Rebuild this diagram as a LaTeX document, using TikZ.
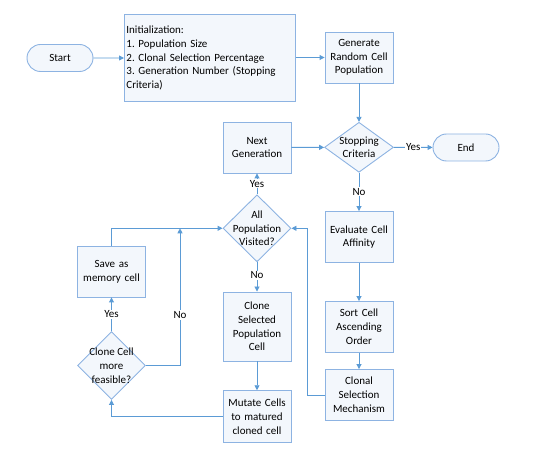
\documentclass[tikz,border=0pt]{standalone}
\usepackage{fontspec}
\setmainfont{Carlito}
\usetikzlibrary{shapes.geometric,shapes.misc,arrows.meta}
\definecolor{edge}{HTML}{8DB3E2}
\definecolor{boxfill}{HTML}{F3F7FC}
\definecolor{arr}{HTML}{5B9BD5}
\tikzset{
  base/.style={draw=edge, line width=0.9pt, fill=boxfill, font=\fontsize{11}{13.8}\selectfont, align=center, inner sep=1pt},
  procbox/.style={base, rectangle, minimum width=68pt, minimum height=51pt, text width=66pt},
  term/.style={base, rounded rectangle, minimum width=68pt, minimum height=27pt},
  decis/.style={base, diamond, inner sep=0pt},
  dtext/.style={font=\fontsize{11}{13.8}\selectfont, align=center, inner sep=0pt},
  conn/.style={draw=arr, line width=0.9pt, -{Triangle[length=5pt,width=5pt]}},
  lbl/.style={font=\fontsize{11}{12}\selectfont, fill=white, inner sep=1pt},
}
\frenchspacing
\begin{document}
\begin{tikzpicture}[x=1pt,y=-1pt]
\useasboundingbox (0,0) rectangle (533,454);
\node[term] (start) at (60,58) {Start};
\node[base, rectangle, minimum width=171pt, minimum height=87pt, text width=167pt, align=left, anchor=north west, inner sep=2pt] (init) at (124,14) {Initialization:\\1. Population Size\\2. Clonal Selection Percentage\\3. Generation Number (Stopping\\Criteria)};
\node[procbox] (gen) at (359,57.5) {Generate\\Random Cell\\Population};
\node[decis, minimum width=69pt, minimum height=50pt] (stop) at (359,147.3) {};
\node[dtext] (stopt) at (stop) {Stopping\\Criteria};
\node[procbox] (next) at (257,147.5) {Next\\Generation};
\node[term] (end) at (466,147.5) {End};
\node[procbox] (eval) at (359,237) {Evaluate Cell\\Affinity};
\node[procbox] (sort) at (359,327) {Sort Cell\\Ascending\\Order};
\node[procbox] (clonal) at (359,395) {Clonal\\Selection\\Mechanism};
\node[decis, minimum width=68pt, minimum height=67pt] (allpop) at (257,228.3) {};
\node[dtext] (allpopt) at (allpop) {All\\Population\\Visited?};
\node[procbox, minimum height=69pt] (clonesel) at (257,326.5) {Clone\\Selected\\Population\\Cell};
\node[procbox, minimum height=52pt] (mutate) at (257,416.7) {Mutate Cells\\to matured\\cloned cell};
\node[procbox] (save) at (111.5,271.5) {Save as\\memory cell};
\node[decis, minimum width=68pt, minimum height=68pt] (clonecell) at (111.5,365.5) {};
\node[dtext] (clonecellt) at (clonecell) {Clone Cell\\more\\feasible?};
\coordinate (nojoin) at (180,228.3);
\draw[conn] (start) -- (init.west |- start);
\draw[conn] (init.east |- gen) -- (gen);
\draw[conn] (gen) -- (stop);
\draw[conn] (stop) -- node[lbl]{Yes} (end);
\draw[conn] (stop) -- node[lbl]{No} (eval);
\draw[conn] (eval) -- (sort);
\draw[conn] (sort) -- (clonal);
\draw[conn] (clonal.west) -- ++(-17,0) |- (allpop.east);
\draw[conn] (allpop) -- node[lbl]{Yes} (next);
\draw[conn] (next) -- (stop);
\draw[conn] (allpop) -- node[lbl, pos=0.45]{No} (clonesel);
\draw[conn] (clonesel) -- (mutate);
\draw[conn] (mutate.west) -| (clonecell.south);
\draw[conn] (clonecell) -- node[lbl]{Yes} (save);
\draw[conn] (clonecell.east) -| node[lbl, pos=0.684]{No} (nojoin);
\draw[conn] (save.north) |- (allpop.west);
\end{tikzpicture}
\end{document}
